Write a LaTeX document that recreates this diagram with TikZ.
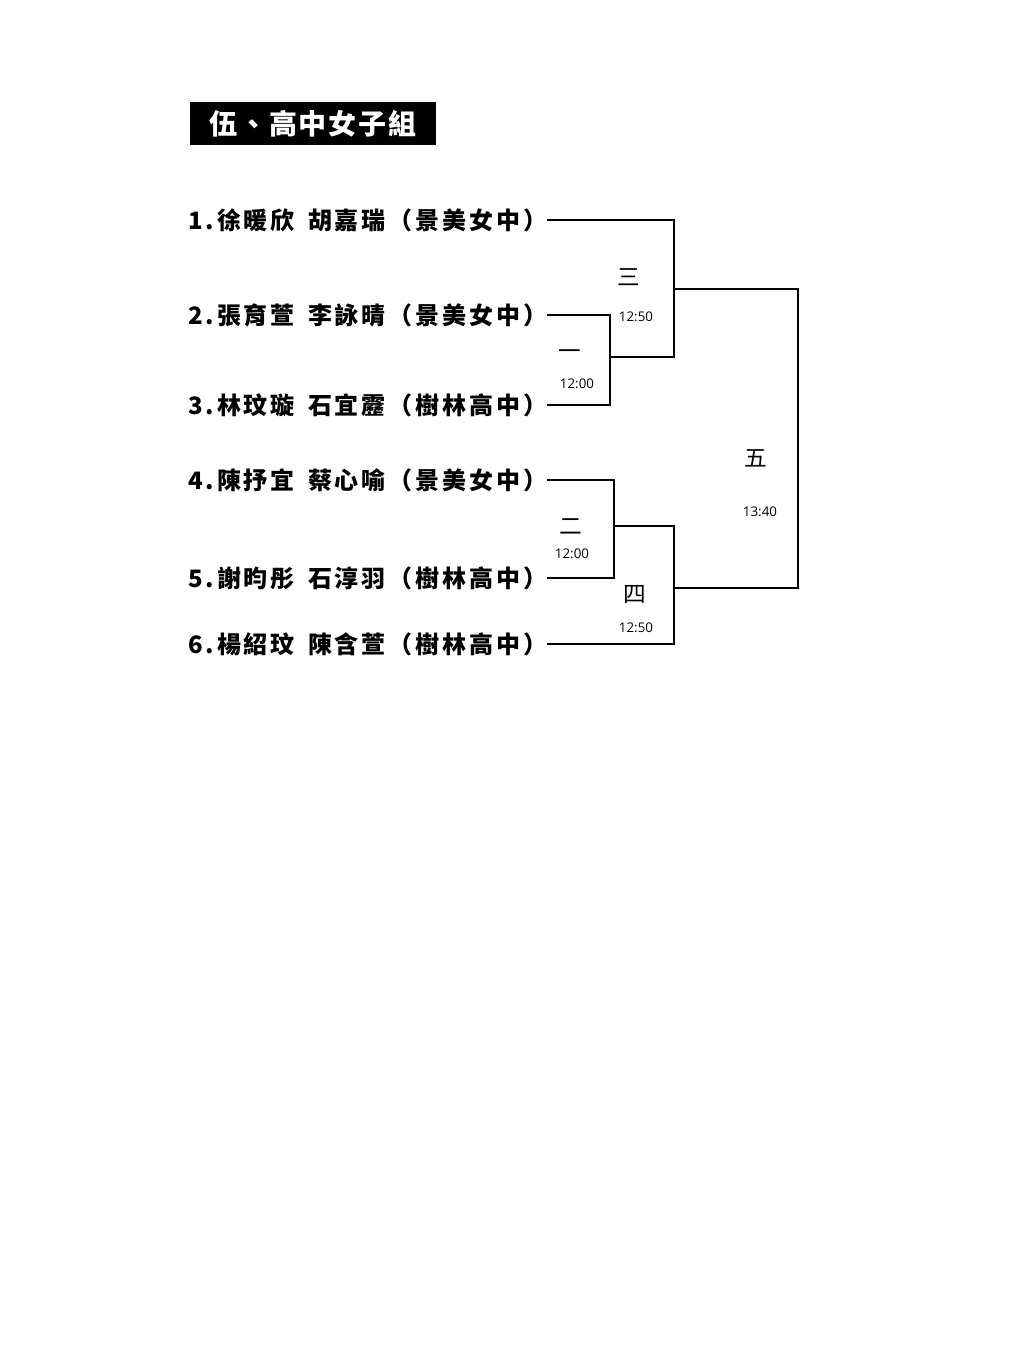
\documentclass[tikz,border=0pt]{standalone}
\usepackage{fontspec}
\setmainfont{Open Sans}
\newfontfamily\cjk{Noto Sans CJK TC}
\newfontfamily\cjkwide[LetterSpace=12]{Noto Sans CJK TC}
\newfontfamily\cjktitle[LetterSpace=6]{Noto Sans CJK TC}
\tikzset{
  player/.style={anchor=west, inner sep=0pt, text width=269pt, align=left,
    font=\cjkwide\bfseries\fontsize{18}{20}\selectfont},
  gamelbl/.style={inner sep=0pt, font=\cjk\fontsize{17}{19}\selectfont},
  timelbl/.style={inner sep=0pt, font=\fontsize{10}{12}\selectfont},
  bracket/.style={line width=0.9pt}
}

\begin{document}
\begin{tikzpicture}[x=0.75pt, y=-0.75pt]
  \useasboundingbox[fill=white] (0,0) rectangle (1024,1365);
  % Title
  \node[fill=black, text=white, minimum width=184.5pt, minimum height=32pt,
    font=\cjktitle\bfseries\fontsize{21}{24}\selectfont] (title) at (313,123.5) {伍、高中女子組};
  % Players
  \foreach \i/\y/\txt in {1/220/{徐暖欣\hspace{0.55em}胡嘉瑞（景美女中）},
                          2/315/{張育萱\hspace{0.55em}李詠晴（景美女中）},
                          3/405/{林玟璇\hspace{0.55em}石宜靂（樹林高中）},
                          4/480/{陳抒宜\hspace{0.55em}蔡心喻（景美女中）},
                          5/578/{謝昀彤\hspace{0.55em}石淳羽（樹林高中）},
                          6/644/{楊紹玟\hspace{0.55em}陳含萱（樹林高中）}}
    \node[player] (p\i) at (188,\y) {\mbox{\i.\txt}};
  % Junctions
  \coordinate (g1) at (610,357);
  \coordinate (g2) at (614,526);
  \coordinate (g3) at (674,289);
  \coordinate (g4) at (674,588);
  \coordinate (g5) at (798,440);
  % Bracket
  \draw[bracket] (p2.east) -| (g1);
  \draw[bracket] (p3.east) -| (g1);
  \draw[bracket] (p4.east) -| (g2);
  \draw[bracket] (p5.east) -| (g2);
  \draw[bracket] (p1.east) -| (g3);
  \draw[bracket] (g1) -| (g3);
  \draw[bracket] (g2) -| (g4);
  \draw[bracket] (p6.east) -| (g4);
  \draw[bracket] (g3) -| (g5);
  \draw[bracket] (g4) -| (g5);
  % Game labels
  \node[gamelbl] (n1) at (570,355) {一};
  \node[timelbl] (t1) at (577,384) {12:00};
  \node[gamelbl] (n2) at (571,527) {二};
  \node[timelbl] (t2) at (572,554) {12:00};
  \node[gamelbl] (n3) at (629,277) {三};
  \node[timelbl] (t3) at (636,317) {12:50};
  \node[gamelbl] (n4) at (635,594) {四};
  \node[timelbl] (t4) at (636,628) {12:50};
  \node[gamelbl] (n5) at (756,458) {五};
  \node[timelbl] (t5) at (760,512) {13:40};
\end{tikzpicture}
\end{document}
